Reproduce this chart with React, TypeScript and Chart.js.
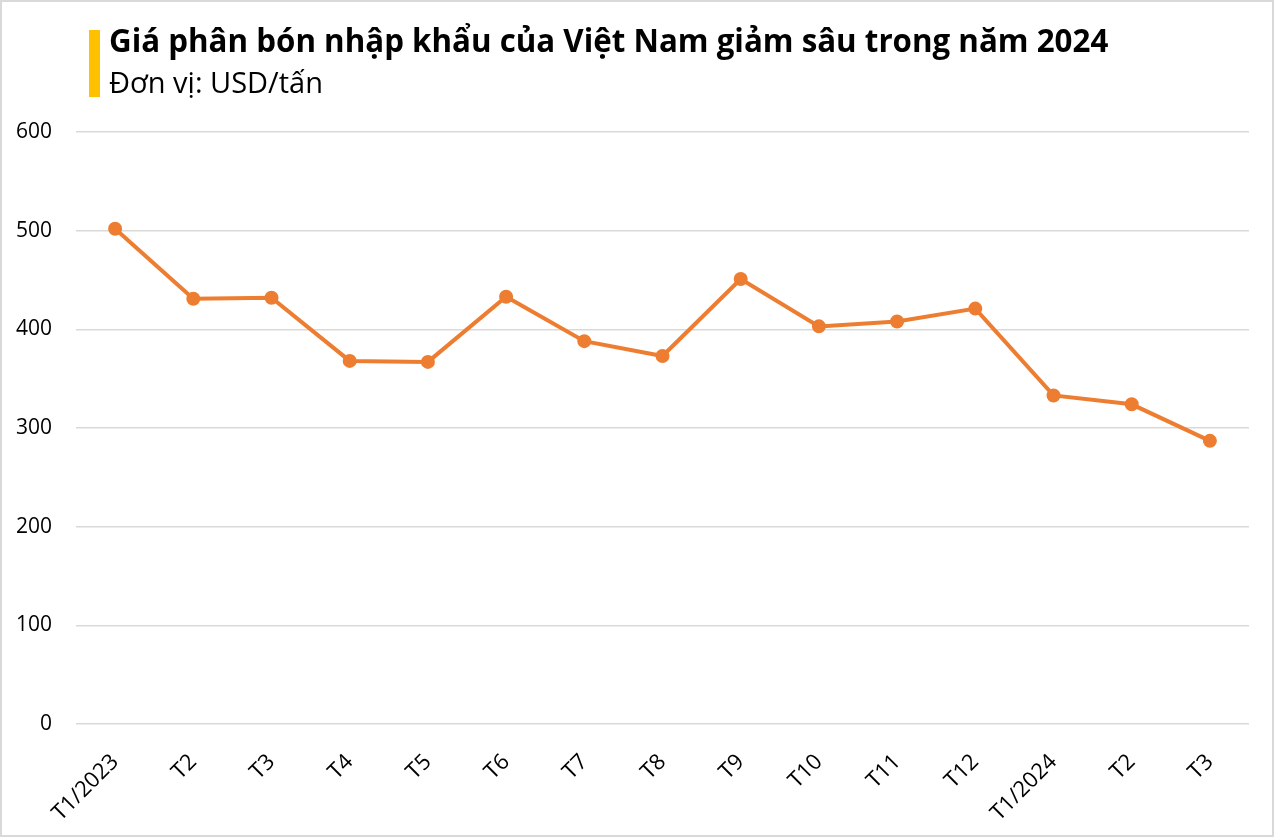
import React, { useEffect, useRef } from "react";
import { Chart, registerables } from "chart.js";
Chart.register(...registerables);

const titleText = "Giá phân bón nhập khẩu của Việt Nam giảm sâu trong năm 2024";
const subtitleText = "Đơn vị: USD/tấn";
const categories = ["T1/2023", "T2", "T3", "T4", "T5", "T6", "T7", "T8", "T9", "T10", "T11", "T12", "T1/2024", "T2", "T3"];
const prices = [502, 431, 432, 368, 367, 433, 388, 373, 451, 403, 408, 421, 333, 324, 287];
const yMin = 0;
const yMax = 600;
const yStep = 100;

const FONT = "'Open Sans', 'Noto Sans', sans-serif";

export default function App() {
  const ref = useRef<HTMLCanvasElement>(null);
  useEffect(() => {
    document.body.style.margin = "0";
    const ctx = ref.current!.getContext("2d")!;
    const chart = new Chart(ctx, {
      type: "line",
      data: {
        labels: categories,
        datasets: [
          {
            data: prices,
            borderColor: "#ED7D31",
            backgroundColor: "#ED7D31",
            borderWidth: 4,
            pointRadius: 5,
            pointBackgroundColor: "#ED7D31",
            pointBorderColor: "#ED7D31",
            tension: 0,
          },
        ],
      },
      options: {
        responsive: false,
        animation: false,
        layout: { padding: { top: 132, right: 25, left: 0, bottom: 0 } },
        plugins: { legend: { display: false }, tooltip: { enabled: false }, title: { display: false } },
        scales: {
          x: {
            offset: true,
            grid: { display: false },
            border: { display: false },
            ticks: {
              minRotation: 45,
              maxRotation: 45,
              autoSkip: false,
              color: "#000",
              padding: 17,
              font: { family: FONT, size: 22 },
            },
            afterFit: (s: any) => {
              s.height = 113;
            },
          },
          y: {
            min: yMin,
            max: yMax,
            border: { display: false },
            grid: { color: "#d9d9d9", lineWidth: 1.5, drawTicks: false },
            ticks: {
              stepSize: yStep,
              color: "#000",
              padding: 24,
              font: { family: FONT, size: 21 },
            },
            afterFit: (s: any) => {
              s.width = 76;
            },
          },
        },
      },
    });
    return () => chart.destroy();
  }, []);

  return (
    <div style={{ position: "absolute", left: 0, top: 0, width: 1274, height: 837, background: "#fff", overflow: "hidden" }}>
      <canvas ref={ref} width={1274} height={837} style={{ position: "absolute", left: 0, top: 0 }} />
      <div style={{ position: "absolute", left: 0, top: 0, width: 1270, height: 833, border: "2px solid #d9d9d9" }} />
      <div style={{ position: "absolute", left: 89, top: 30, width: 11, height: 67, background: "#FFC000" }} />
      <div
        style={{
          position: "absolute",
          left: 109,
          top: 25,
          fontFamily: FONT,
          fontWeight: 700,
          fontSize: 31.3,
          lineHeight: "31px",
          color: "#000",
          whiteSpace: "nowrap",
        }}
      >
        {titleText}
      </div>
      <div
        style={{
          position: "absolute",
          left: 109,
          top: 67,
          fontFamily: FONT,
          fontSize: 29,
          lineHeight: "29px",
          color: "#000",
          whiteSpace: "nowrap",
        }}
      >
        {subtitleText}
      </div>
    </div>
  );
}
